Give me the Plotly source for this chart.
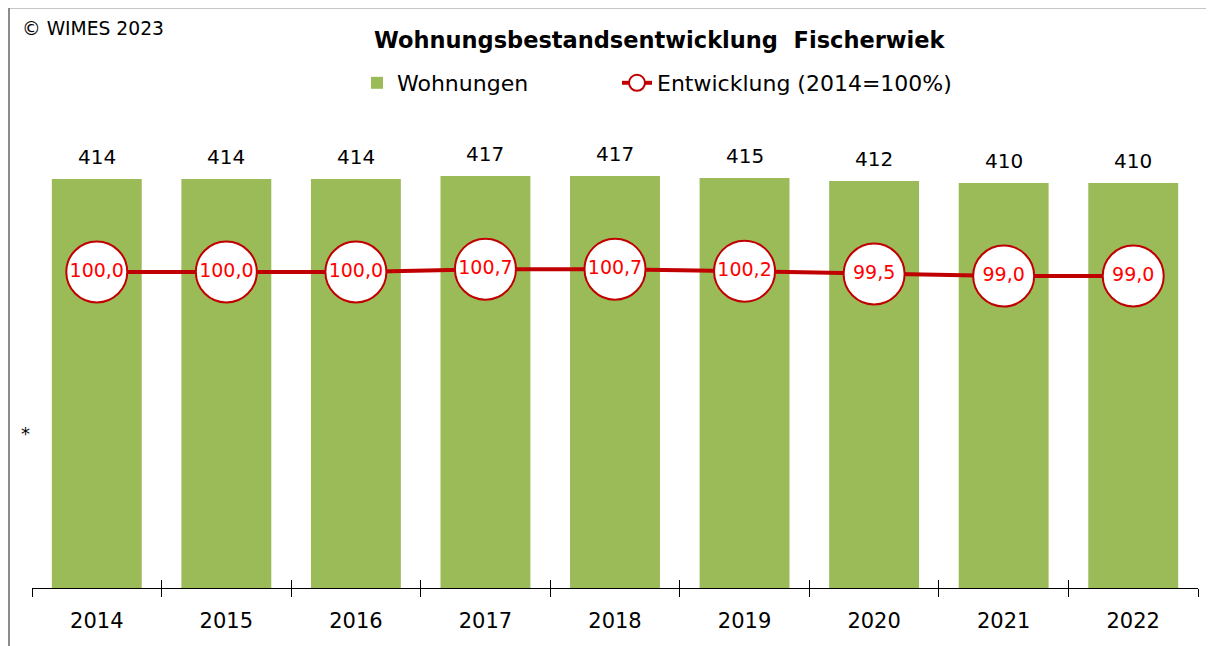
import plotly.graph_objects as go

# data
years = ['2014', '2015', '2016', '2017', '2018', '2019', '2020', '2021', '2022']
wohnungen = [414, 414, 414, 417, 417, 415, 412, 410, 410]
entwicklung = [100.0, 100.0, 100.0, 100.7, 100.7, 100.2, 99.5, 99.0, 99.0]
entw_labels = ['100,0', '100,0', '100,0', '100,7', '100,7', '100,2', '99,5', '99,0', '99,0']

W, H = 1214, 646
OFF = 8  # page body margin
ml, mr, mt, mb = 24, 24, 92, 66
FONT = "DejaVu Sans, sans-serif"


def px_x(px):
    # screen pixel -> paper x
    return (px - OFF - ml) / (W - ml - mr)


def px_y(py):
    # screen pixel -> paper y
    return (H - mb - (py - OFF)) / (H - mt - mb)


fig = go.Figure()

fig.add_trace(go.Bar(
    x=years, y=wohnungen, name='Wohnungen', legend='legend',
    marker=dict(color='#9bbb59', line=dict(width=0)),
))

fig.add_trace(go.Scatter(
    x=years, y=entwicklung, name='Entwicklung (2014=100%)', yaxis='y2',
    legend='legend2', mode='lines+markers',
    line=dict(color='#c00000', width=4),
    marker=dict(size=61, color='white', line=dict(color='#c00000', width=2)),
))

# values inside circles
fig.add_trace(go.Scatter(
    x=years, y=entwicklung, yaxis='y2', mode='text', showlegend=False,
    text=entw_labels, textposition='middle center',
    textfont=dict(color='#ff0000', size=19, family=FONT),
    hoverinfo='skip',
))

# invisible trace carrying the second x axis (inside half of the tick marks)
fig.add_trace(go.Scatter(
    x=years, y=wohnungen, xaxis='x2', mode='markers', showlegend=False,
    marker=dict(opacity=0), hoverinfo='skip',
))

# bar value labels
for i, v in enumerate(wohnungen):
    fig.add_annotation(x=i, y=v, text=str(v), showarrow=False,
                       yanchor='bottom', yshift=8,
                       font=dict(size=20, color='black', family=FONT))

fig.add_annotation(xref='paper', yref='paper', x=px_x(20), y=px_y(28),
                   xanchor='left', yanchor='middle', text='© WIMES 2023',
                   showarrow=False, font=dict(size=18.7, color='black', family=FONT))
fig.add_annotation(xref='paper', yref='paper', x=px_x(660), y=px_y(40),
                   xanchor='center', yanchor='middle',
                   text='<b>Wohnungsbestandsentwicklung  Fischerwiek</b>',
                   showarrow=False, font=dict(size=22.5, color='black', family=FONT))
fig.add_annotation(xref='paper', yref='paper', x=px_x(25), y=px_y(434),
                   xanchor='center', yanchor='middle', text='*',
                   showarrow=False, font=dict(size=18, color='black', family=FONT))

# outer frame
fig.add_shape(type='rect', xref='paper', yref='paper',
              x0=px_x(9), x1=px_x(1240), y0=px_y(670), y1=px_y(7.5),
              line=dict(color='#8c8c8c', width=2), fillcolor='rgba(0,0,0,0)')

leg_common = dict(orientation='h', xref='container', yref='container',
                  y=1 - (83 - OFF) / H, xanchor='left', yanchor='middle',
                  font=dict(size=22, family=FONT), itemsizing='trace',
                  bgcolor='rgba(0,0,0,0)')

fig.update_layout(
    width=W, height=H,
    margin=dict(l=ml, r=mr, t=mt, b=mb, autoexpand=False),
    plot_bgcolor='white', paper_bgcolor='white',
    font=dict(family=FONT, size=20, color='black'),
    bargap=0.306,
    showlegend=True,
    legend=dict(x=(357 - OFF) / W, **leg_common),
    legend2=dict(x=(617 - OFF) / W, **leg_common),
    xaxis=dict(type='category', range=[-0.5, len(years) - 0.5],
               showline=True, linecolor='black', linewidth=1,
               ticks='outside', tickson='boundaries', ticklen=8,
               tickcolor='black', showgrid=False, ticklabelstandoff=14,
               tickangle=0, tickfont=dict(size=21, family=FONT)),
    xaxis2=dict(type='category', range=[-0.5, len(years) - 0.5],
                overlaying='x', side='bottom', anchor='y', showline=False,
                ticks='inside', tickson='boundaries', ticklen=8,
                tickcolor='black', showticklabels=False, showgrid=False),
    yaxis=dict(range=[0, 494], visible=False, showgrid=False),
    yaxis2=dict(range=[21, 143], overlaying='y', visible=False, showgrid=False),
)

fig.write_html("out.html")
